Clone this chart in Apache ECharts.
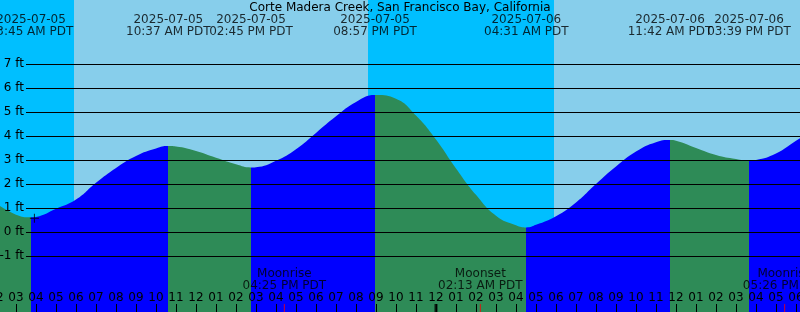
<!DOCTYPE html>
<html>
<head>
<meta charset="utf-8">
<style>
  html, body { margin: 0; padding: 0; }
  #chart { width: 800px; height: 312px; }
</style>
<script src="https://cdn.jsdelivr.net/npm/echarts@6/dist/echarts.min.js"></script>
</head>
<body>
<div id="chart"></div>
<script>
// hours are counted from 2025-07-05 00:00 PDT
const titleText = "Corte Madera Creek, San Francisco Bay, California";

// tide height (ft)
const tideHours = [2, 3, 3.75, 4, 5, 6, 7, 8, 9, 10, 10.62, 11, 12, 13, 14, 14.75, 15, 16, 17, 18, 19, 20, 20.95,
    21, 22, 23, 24, 25, 26, 27, 28, 28.52, 29, 30, 31, 32, 33, 34, 35, 35.7, 36, 37, 38, 39, 39.65, 40, 41, 42, 43];
const tideFeet = [1.2, 0.72, 0.61, 0.63, 0.97, 1.35, 2.05, 2.67, 3.17, 3.48, 3.58, 3.56, 3.37, 3.09, 2.82, 2.69, 2.7, 2.97, 3.45, 4.13, 4.82, 5.42, 5.71,
    5.71, 5.55, 4.85, 3.85, 2.65, 1.55, 0.68, 0.28, 0.19, 0.3, 0.66, 1.23, 2.0, 2.73, 3.35, 3.74, 3.83, 3.8, 3.5, 3.21, 3.04, 2.97, 3.0, 3.27, 3.8, 4.3];

// high / low tides
const extremeHours = [3.75, 10.617, 14.75, 20.95, 28.517, 35.7, 39.65];
const extremeDates = ["2025-07-05", "2025-07-05", "2025-07-05", "2025-07-05", "2025-07-06", "2025-07-06", "2025-07-06"];
const extremeTimes = ["03:45 AM PDT", "10:37 AM PDT", "02:45 PM PDT", "08:57 PM PDT", "04:31 AM PDT", "11:42 AM PDT", "03:39 PM PDT"];

// moon events
const moonHours = [1.7, 16.417, 26.217, 41.433];
const moonNames = ["Moonset", "Moonrise", "Moonset", "Moonrise"];
const moonTimes = ["01:42 AM PDT", "04:25 PM PDT", "02:13 AM PDT", "05:26 PM PDT"];

// night (sunset -> sunrise)
const nightSpans = [[2, 5.9], [20.6, 29.9]];
const midnightHours = [24];
const markPoint = [3.92, 0.57];

const X_MIN = 2, X_MAX = 43;
const Y_MIN = -10 / 3, Y_MAX = 29 / 3;
const FT_MIN = -1, FT_MAX = 7;

const FONT = "DejaVu Sans";
const RISE = "#0000FF", FALL = "#2E8B57";

// flood / ebb colour pieces between the extremes
const pieces = [];
const edges = [X_MIN].concat(extremeHours, [X_MAX]);
const risingFirst = tideFeet[1] > tideFeet[0];
for (let i = 0; i < edges.length - 1; i++) {
    const rising = (i % 2 === 0) === risingFirst;
    pieces.push({ gte: edges[i], lt: edges[i + 1], color: rising ? RISE : FALL });
}

const chart = echarts.init(document.getElementById("chart"), null, { renderer: "canvas" });

chart.setOption({
    animation: false,
    backgroundColor: "#87CEEB",
    textStyle: { fontFamily: FONT },
    title: {
        text: titleText,
        left: "center",
        top: 1,
        padding: 0,
        textStyle: { fontSize: 12, fontWeight: "normal", color: "#000", fontFamily: FONT, lineHeight: 14 },
    },
    grid: [
        { left: -4, right: -16, top: 0, bottom: 0, containLabel: false, outerBoundsMode: "none" },
        { left: 26, right: 0, top: 64, bottom: 56, containLabel: false, outerBoundsMode: "none" },
    ],
    xAxis: [
        {
            gridIndex: 0,
            type: "value",
            min: X_MIN,
            max: X_MAX,
            interval: 1,
            z: 5,
            axisLine: { show: false, onZero: false },
            splitLine: { show: false },
            axisTick: { show: true, inside: true, length: 8, lineStyle: { color: "#000", width: 1 } },
            axisLabel: {
                inside: true,
                margin: 8,
                color: "#000",
                fontSize: 12,
                fontFamily: FONT,
                hideOverlap: false,
                formatter: (v) => {
                    const h = v % 12;
                    return String(h === 0 ? 12 : h).padStart(2, "0");
                },
            },
        },
        { gridIndex: 1, type: "value", min: 0, max: 1, show: false },
    ],
    yAxis: [
        { gridIndex: 0, type: "value", min: Y_MIN, max: Y_MAX, show: false },
        {
            gridIndex: 1,
            type: "value",
            min: FT_MIN,
            max: FT_MAX,
            interval: 1,
            z: 5,
            axisLine: { show: false },
            axisTick: { show: false },
            splitLine: { show: true, lineStyle: { color: "#000", width: 1 } },
            axisLabel: {
                margin: 2,
                color: "#000",
                fontSize: 12,
                fontFamily: FONT,
                formatter: "{value} ft",
            },
        },
    ],
    visualMap: {
        type: "piecewise",
        show: false,
        dimension: 0,
        seriesIndex: 1,
        pieces: pieces,
    },
    series: [
        {
            // night sky bands
            type: "line",
            data: [],
            silent: true,
            z: 0,
            markArea: {
                silent: true,
                itemStyle: { color: "#00BFFF", opacity: 1 },
                data: nightSpans.map((s) => [{ xAxis: s[0] }, { xAxis: s[1] }]),
            },
        },
        {
            // tide
            type: "line",
            z: 2,
            data: tideHours.map((h, i) => [h, tideFeet[i]]),
            smooth: 0.5,
            showSymbol: false,
            silent: true,
            lineStyle: { width: 0 },
            areaStyle: { opacity: 1, origin: "start" },
        },
        {
            // high / low labels
            type: "scatter",
            z: 6,
            silent: true,
            symbolSize: 1,
            itemStyle: { color: "transparent" },
            data: extremeHours.map((h) => [h, Y_MAX]),
            label: {
                show: true,
                position: "bottom",
                distance: 13,
                color: "#000",
                fontSize: 12,
                lineHeight: 12,
                fontFamily: FONT,
                align: "center",
                formatter: (p) => extremeDates[p.dataIndex] + "\n" + extremeTimes[p.dataIndex],
            },
            labelLayout: { hideOverlap: false },
        },
        {
            // moon labels
            type: "scatter",
            z: 6,
            silent: true,
            symbolSize: 1,
            itemStyle: { color: "transparent" },
            data: moonHours.map((h) => [h, Y_MIN]),
            label: {
                show: true,
                position: "top",
                distance: 20,
                color: "#000",
                fontSize: 12,
                lineHeight: 12,
                fontFamily: FONT,
                align: "center",
                formatter: (p) => moonNames[p.dataIndex] + "\n" + moonTimes[p.dataIndex],
            },
        },
        {
            // moon event ticks
            type: "scatter",
            z: 7,
            silent: true,
            symbol: "rect",
            symbolSize: [1, 8],
            symbolOffset: [0, -4],
            itemStyle: { color: "#FF0000" },
            data: moonHours.map((h) => [h, Y_MIN]),
        },
        {
            // midnight tick
            type: "scatter",
            z: 7,
            silent: true,
            symbol: "rect",
            symbolSize: [3, 8],
            symbolOffset: [0, -4],
            itemStyle: { color: "#000" },
            data: midnightHours.map((h) => [h, Y_MIN]),
        },
        {
            // mark
            type: "scatter",
            z: 7,
            silent: true,
            symbol: "path://M4,0h1v9h-1z M0,4h9v1h-9z",
            symbolSize: 9,
            itemStyle: { color: "#000" },
            data: [markPoint],
        },
    ],
});
</script>
</body>
</html>
